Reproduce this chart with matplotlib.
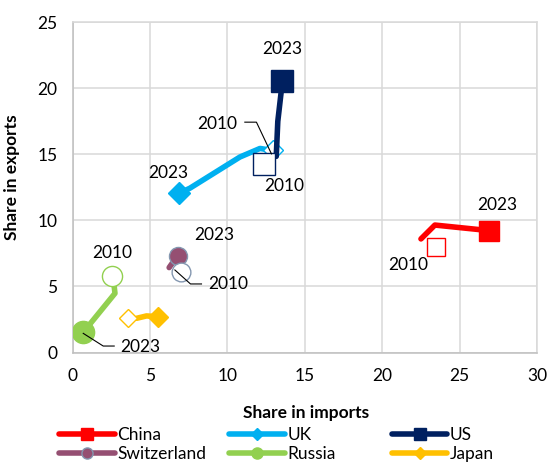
import matplotlib.pyplot as plt
from matplotlib.lines import Line2D

plt.rcParams["font.family"] = ["Lato", "DejaVu Sans"]

# Share in imports (x) and exports (y), %: path of each country, 2010 end first
countries = ["China", "UK", "US", "Switzerland", "Russia", "Japan"]
path_x = {
    "China": [22.5, 23.4, 26.9],
    "UK": [12.9, 12.1, 10.8, 7.57, 6.88],
    "US": [13.15, 13.25, 13.55],
    "Switzerland": [6.23, 6.77],
    "Russia": [2.68, 2.73, 0.68],
    "Japan": [4.13, 4.77, 5.52],
}
path_y = {
    "China": [8.6, 9.65, 9.23],
    "UK": [15.3, 15.45, 14.8, 12.44, 12.06],
    "US": [14.85, 17.5, 20.57],
    "Switzerland": [6.43, 7.33],
    "Russia": [5.0, 4.48, 1.53],
    "Japan": [2.59, 2.77, 2.71],
}
x_2010 = [23.5, 12.94, 12.34, 6.99, 2.55, 3.59]
y_2010 = [7.97, 15.34, 14.28, 6.12, 5.8, 2.59]
x_2023 = [26.9, 6.88, 13.55, 6.77, 0.68, 5.52]
y_2023 = [9.23, 12.06, 20.57, 7.33, 1.53, 2.71]

colors = ["#FF0000", "#00B0F0", "#002060", "#954F72", "#92D050", "#FFC000"]
markers = ["s", "D", "s", "o", "o", "D"]
size_2023 = [14.5, 11.5, 16, 13, 16, 10.5]
size_2010 = [13.5, 10, 16, 13.5, 14.5, 9]
edge_swiss = "#8497B0"
fs = 12.5

fig = plt.figure(figsize=(5.48, 4.62), dpi=100)
ax = fig.add_axes([0.1327, 0.2370, 0.8473, 0.7147])

for i, c in enumerate(countries):
    col = colors[i]
    edge = edge_swiss if c == "Switzerland" else col
    ax.plot(path_x[c], path_y[c], color=col, lw=4, solid_capstyle="round",
            solid_joinstyle="round", zorder=3 + i)
    ax.plot(x_2023[i], y_2023[i], marker=markers[i], ms=size_2023[i],
            mfc=col, mec=edge, mew=1.0, ls="none", zorder=3 + i)
    ax.plot(x_2010[i], y_2010[i], marker=markers[i], ms=size_2010[i],
            mfc="white", mec=edge, mew=1.0, ls="none", zorder=3 + i)

# year labels
txt = dict(fontsize=fs, ha="center", va="center", zorder=20)
ax.text(13.55, 22.97, "2023", **txt)
ax.text(9.35, 17.29, "2010", **txt)
ax.text(13.65, 12.64, "2010", **txt)
ax.text(6.17, 13.58, "2023", **txt)
ax.text(27.46, 11.17, "2023", **txt)
ax.text(21.65, 6.63, "2010", **txt)
ax.text(9.12, 8.90, "2023", **txt)
ax.text(10.04, 5.19, "2010", **txt)
ax.text(2.58, 7.52, "2010", **txt)
ax.text(4.39, 0.44, "2023", **txt)

# leader lines
lead = dict(color="black", lw=0.8, zorder=19)
ax.plot([11.12, 11.87, 12.84], [17.44, 17.44, 15.04], **lead)
ax.plot([6.60, 7.61, 8.32], [6.25, 5.19, 5.19], **lead)
ax.plot([0.68, 1.97, 2.68], [1.45, 0.49, 0.49], **lead)

ax.set_xlim(0, 30)
ax.set_ylim(0, 25)
ax.set_xticks(range(0, 31, 5))
ax.set_yticks(range(0, 26, 5))
ax.grid(True, color="#D9D9D9", lw=1.1, zorder=0)
ax.set_axisbelow(True)
for s in ax.spines.values():
    s.set_color("#D9D9D9")
    s.set_linewidth(1.1)
ax.spines["left"].set_color("#BFBFBF")
ax.spines["bottom"].set_color("#BFBFBF")
ax.tick_params(axis="both", length=0, labelsize=fs)
ax.tick_params(axis="y", pad=11)
ax.tick_params(axis="x", pad=11)

ax.set_xlabel("Share in imports", fontsize=fs, fontweight="bold")
ax.set_ylabel("Share in exports", fontsize=fs, fontweight="bold")
ax.xaxis.set_label_coords(0.5016, -0.160)
ax.yaxis.set_label_coords(-0.1135, 0.532)

# legend: three columns of two entries
handles = {}
for i, c in enumerate(countries):
    edge = edge_swiss if c == "Switzerland" else colors[i]
    ms = 6 if markers[i] == "D" else 8
    handles[c] = Line2D([], [], color=colors[i], lw=4, marker=markers[i],
                        ms=ms, mfc=colors[i], mec=edge, mew=1.0,
                        solid_capstyle="round")
columns = [["China", "Switzerland"], ["UK", "Russia"], ["US", "Japan"]]
col_x = [0.108, 0.418, 0.715]
for names, x0 in zip(columns, col_x):
    leg = fig.legend([handles[c] for c in names], names, loc="upper left",
                     bbox_to_anchor=(x0, 0.075), frameon=False, fontsize=fs,
                     handlelength=3.2, handletextpad=0.15, labelspacing=0.18,
                     borderaxespad=0, borderpad=0)

fig.savefig("out.png", dpi=100)
